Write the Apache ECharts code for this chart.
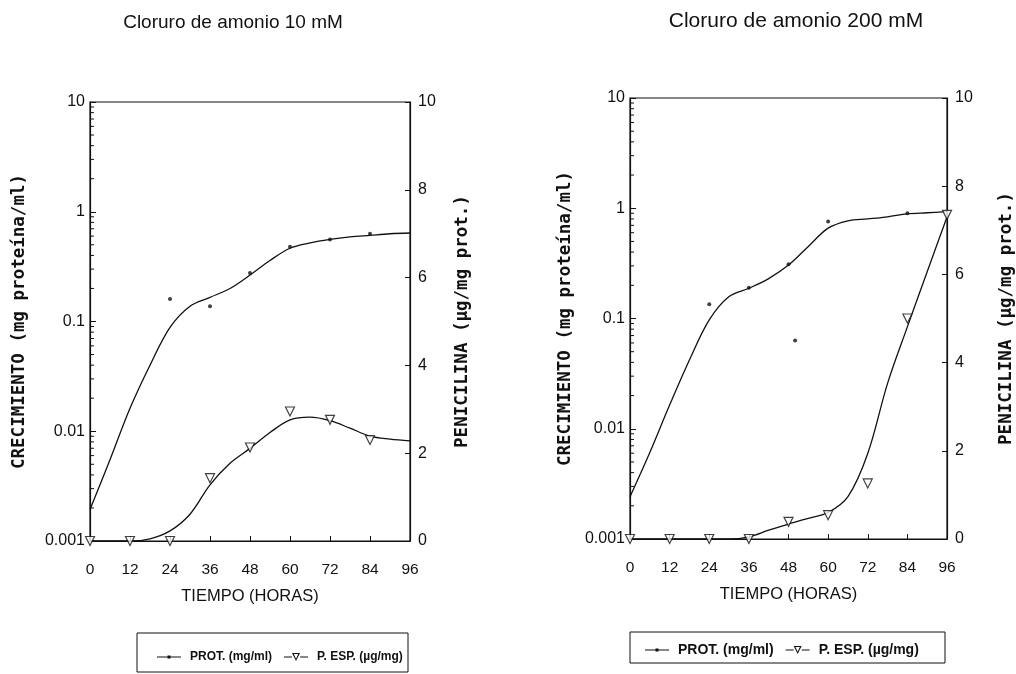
<!DOCTYPE html>
<html>
<head>
<meta charset="utf-8">
<script src="https://cdn.jsdelivr.net/npm/echarts@6/dist/echarts.min.js"></script>
<style>html,body{margin:0;padding:0;background:#fff}#c{width:1016px;height:674px}</style>
</head>
<body>
<div id="c"></div>
<script>
// ---------- data ----------
const titles = ['Cloruro de amonio 10 mM', 'Cloruro de amonio 200 mM'];
const xTicks = [0, 12, 24, 36, 48, 60, 72, 84, 96];
const logTickLabels = ['0.001', '0.01', '0.1', '1', '10'];
const curveHours = [0, 6, 12, 18, 24, 30, 36, 42, 48, 54, 60, 66, 72, 78, 84, 90, 96];

// 10 mM
const prot10Curve = [0.00194, 0.0055, 0.0162, 0.040, 0.0885, 0.138, 0.166, 0.20, 0.265, 0.36, 0.465, 0.52, 0.56, 0.59, 0.61, 0.63, 0.64];
const prot10PtsX = [24, 36, 48, 60, 72, 84];
const prot10PtsY = [0.16, 0.138, 0.276, 0.48, 0.56, 0.63];
const pesp10Curve = [0, 0, 0, 0.05, 0.23, 0.61, 1.28, 1.77, 2.11, 2.47, 2.76, 2.82, 2.74, 2.57, 2.39, 2.32, 2.28];
const pesp10PtsX = [0, 12, 24, 36, 48, 60, 72, 84];
const pesp10PtsY = [0, 0, 0, 1.43, 2.13, 2.95, 2.76, 2.30];

// 200 mM
const prot200Curve = [0.00242, 0.0061, 0.0164, 0.042, 0.097, 0.158, 0.188, 0.23, 0.305, 0.45, 0.66, 0.77, 0.80, 0.835, 0.89, 0.91, 0.93];
const prot200PtsX = [24, 36, 48, 50, 60, 84];
const prot200PtsY = [0.135, 0.19, 0.31, 0.063, 0.76, 0.90];
const pesp200Curve = [0, 0, 0, 0, 0, 0, 0.05, 0.2, 0.34, 0.47, 0.6, 0.96, 1.94, 3.53, 4.81, 6.06, 7.3];
const pesp200PtsX = [0, 12, 24, 36, 48, 60, 72, 84, 96];
const pesp200PtsY = [0, 0, 0, 0, 0.39, 0.54, 1.26, 5.0, 7.35];

const protName = 'PROT. (mg/ml)';
const pespName = 'P. ESP. (µg/mg)';
const leftAxisName = 'CRECIMIENTO (mg proteína/ml)';
const rightAxisName = 'PENICILINA (µg/mg prot.)';
const xAxisName = 'TIEMPO (HORAS)';

// ---------- helpers ----------
const zip = (a, b) => a.map((v, i) => [v, b[i]]);
const minorLogVals = [];
[0.001, 0.01, 0.1, 1].forEach(d => { for (let m = 2; m <= 9; m++) minorLogVals.push(+(m * d).toPrecision(3)); });

const numFont = 'Liberation Sans';
const nameFont = 'DejaVu Sans Mono';
const black = '#111';

const grids = [
  { left: 90, top: 102, width: 320, height: 439 },
  { left: 630, top: 98, width: 323, height: 441 }
];
const leftNameGap = [62, 56];
const rightNameGap = [43, 50];

function xAxis(i) {
  return {
    gridIndex: i, type: 'value', min: 0, max: 96, interval: 12,
    name: xAxisName, nameLocation: 'middle', nameGap: 47,
    nameTextStyle: { fontFamily: numFont, fontSize: 16.5, color: black },
    axisLine: { lineStyle: { color: black, width: 1.2 } },
    axisTick: { inside: true, length: 5, lineStyle: { color: black } },
    axisLabel: { fontFamily: numFont, fontSize: 15.5, color: black, margin: 21 },
    splitLine: { show: false }
  };
}
function logAxis(i) {
  return {
    gridIndex: i, type: 'log', logBase: 10, min: 0.001, max: 10, position: 'left',
    name: leftAxisName, nameLocation: 'middle', nameGap: leftNameGap[i], nameRotate: 90,
    nameTextStyle: { fontFamily: nameFont, fontSize: 17.5, fontWeight: 'bold', color: black },
    axisLine: { show: true, lineStyle: { color: black, width: 1.2 } },
    axisTick: { inside: true, length: 6, lineStyle: { color: black } },
    axisLabel: { fontFamily: numFont, fontSize: 16, color: black, margin: 5,
      formatter: (v) => logTickLabels[Math.round(Math.log10(v)) + 3] },
    splitLine: { show: false }
  };
}
function linAxis(i) {
  return {
    gridIndex: i, type: 'value', min: 0, max: 10, interval: 2, position: 'right',
    name: rightAxisName, nameLocation: 'middle', nameGap: rightNameGap[i], nameRotate: 90,
    nameTextStyle: { fontFamily: nameFont, fontSize: 17.5, fontWeight: 'bold', color: black },
    axisLine: { show: true, lineStyle: { color: black, width: 1.2 } },
    axisTick: { inside: true, length: 5, lineStyle: { color: black } },
    axisLabel: { fontFamily: numFont, fontSize: 16, color: black, margin: 8 },
    splitLine: { show: false }
  };
}

function panelSeries(gi, protCurve, protPtsX, protPtsY, pespCurve, pespPtsX, pespPtsY) {
  const xa = gi, yl = gi * 2, yr = gi * 2 + 1;
  return [
    { name: protName, type: 'line', xAxisIndex: xa, yAxisIndex: yl, data: zip(curveHours, protCurve),
      smooth: 0.35, showSymbol: false, color: black, lineStyle: { color: black, width: 1.3 }, z: 3 },
    { name: protName, type: 'scatter', xAxisIndex: xa, yAxisIndex: yl, data: zip(protPtsX, protPtsY),
      symbol: 'circle', symbolSize: 4, itemStyle: { color: black }, clip: false, z: 4 },
    { name: pespName, type: 'line', xAxisIndex: xa, yAxisIndex: yr, data: zip(curveHours, pespCurve),
      smooth: 0.35, showSymbol: false, color: black, lineStyle: { color: black, width: 1.3 }, z: 3 },
    { name: pespName, type: 'scatter', xAxisIndex: xa, yAxisIndex: yr, data: zip(pespPtsX, pespPtsY),
      symbol: 'triangle', symbolRotate: 180, symbolSize: 9, clip: false, z: 5,
      itemStyle: { color: '#fff', borderColor: black, borderWidth: 1.2 } },
    { type: 'custom', xAxisIndex: xa, yAxisIndex: yl, silent: true, clip: false, z: 6,
      data: minorLogVals.map(v => [0, v]),
      renderItem: (params, api) => {
        const p = api.coord([0, api.value(1)]);
        return { type: 'line', shape: { x1: p[0], y1: p[1], x2: p[0] + 4, y2: p[1] },
          style: { stroke: black, lineWidth: 1 } };
      } }
  ];
}

const protIcon = 'path://M0,3.5 H24 V4.5 H0 Z M10.5,2.5 H13.5 V5.5 H10.5 Z';
const pespIcon = 'path://M0,3.5 H8 V4.5 H0 Z M16,3.5 H24 V4.5 H16 Z M8,0 L16,0 L12,8 Z M9.8,1 L12,5.8 L14.2,1 Z';

function legend(left, top, fs, gap) {
  return {
    left: left, top: top, orient: 'horizontal', itemWidth: 24, itemHeight: 8, itemGap: gap,
    selectedMode: false,
    textStyle: { fontFamily: numFont, fontSize: fs, fontWeight: 'bold', color: black, padding: [0, 0, 0, 4] },
    data: [ { name: protName, icon: protIcon, itemStyle: { color: black } },
            { name: pespName, icon: pespIcon, itemStyle: { color: black } } ]
  };
}

const option = {
  backgroundColor: '#fff',
  animation: false,
  title: [
    { text: titles[0], left: 228, top: 8, textAlign: 'center',
      textStyle: { fontFamily: numFont, fontSize: 19, fontWeight: 'normal', color: black } },
    { text: titles[1], left: 791, top: 6, textAlign: 'center',
      textStyle: { fontFamily: numFont, fontSize: 21, fontWeight: 'normal', color: black } }
  ],
  grid: grids.map(g => Object.assign({ show: true, borderColor: black, borderWidth: 1.2, backgroundColor: 'transparent' }, g)),
  xAxis: [xAxis(0), xAxis(1)],
  yAxis: [logAxis(0), linAxis(0), logAxis(1), linAxis(1)],
  legend: [legend(152, 646, 12, 12), legend(640, 638, 14, 12)],
  graphic: [
    { type: 'rect', shape: { x: 137, y: 633, width: 271, height: 39 }, style: { fill: 'none', stroke: black, lineWidth: 1 } },
    { type: 'rect', shape: { x: 630, y: 632, width: 315, height: 31 }, style: { fill: 'none', stroke: black, lineWidth: 1 } }
  ],
  series: [
    ...panelSeries(0, prot10Curve, prot10PtsX, prot10PtsY, pesp10Curve, pesp10PtsX, pesp10PtsY),
    ...panelSeries(1, prot200Curve, prot200PtsX, prot200PtsY, pesp200Curve, pesp200PtsX, pesp200PtsY)
  ]
};

const chart = echarts.init(document.getElementById('c'), null, { renderer: 'canvas' });
chart.setOption(option);
</script>
</body>
</html>
